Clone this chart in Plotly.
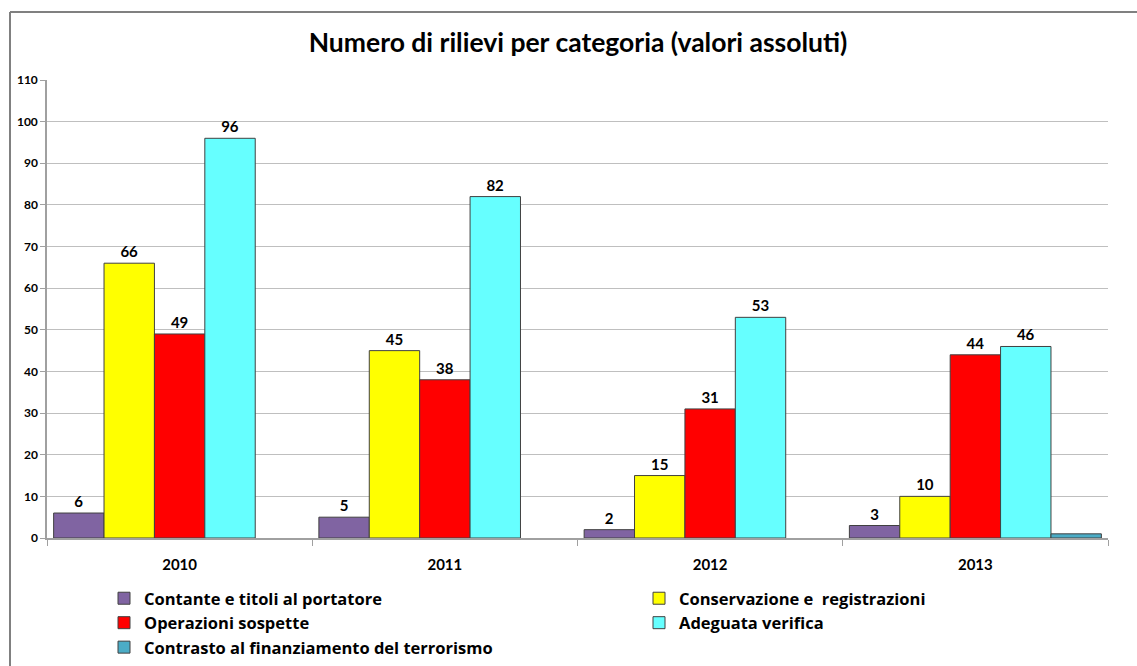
import plotly.graph_objects as go

# Anni e serie
anni = ["2010", "2011", "2012", "2013"]
contante = [6, 5, 2, 3]
conservazione = [66, 45, 15, 10]
operazioni = [49, 38, 31, 44]
adeguata = [96, 82, 53, 46]
contrasto = [None, None, None, 1]

# nome, valori, colore, etichetta dati, legenda (colonna)
serie = [
    ("Contante e titoli al portatore", contante, "#8064A2", True, "legend"),
    ("Conservazione e  registrazioni", conservazione, "#FFFF00", True, "legend2"),
    ("Operazioni sospette", operazioni, "#FF0000", True, "legend"),
    ("Adeguata verifica", adeguata, "#66FFFF", True, "legend2"),
    ("Contrasto al finanziamento del terrorismo", contrasto, "#4BACC6", False, "legend"),
]

FONT = "Lato"

fig = go.Figure()
for nome, valori, colore, etichetta, leg in serie:
    fig.add_trace(go.Bar(
        name=nome,
        x=anni,
        y=valori,
        legend=leg,
        marker=dict(color=colore, line=dict(color="#404040", width=1)),
        text=[str(v) if (etichetta and v is not None) else "" for v in valori],
        textposition="outside",
        textfont=dict(family=FONT, size=15, color="#000000", weight="bold"),
        cliponaxis=False,
    ))

L, R, T, B = 47, 29, 80, 128
W, H = 1137, 666
pw = W - L - R
ph = H - T - B

legend_font = dict(family="Open Sans", size=16.5, color="#000000", weight="bold")
legend_y = -(581 - (H - B)) / ph

fig.update_layout(
    width=W, height=H,
    margin=dict(l=L, r=R, t=T, b=B, autoexpand=False),
    paper_bgcolor="white",
    plot_bgcolor="white",
    barmode="group",
    bargap=0.05,
    bargroupgap=0,
    title=dict(
        text="Numero di rilievi per categoria (valori assoluti)",
        x=578 / W, xanchor="center",
        y=1 - 43 / H, yanchor="middle",
        font=dict(family=FONT, size=26.5, color="#000000", weight="bold"),
    ),
    font=dict(family=FONT, color="#000000"),
    legend=dict(
        orientation="v",
        x=(104 - L) / pw, xanchor="left",
        y=legend_y, yanchor="top",
        font=legend_font,
        itemwidth=30,
        tracegroupgap=0,
        bgcolor="rgba(0,0,0,0)",
    ),
    legend2=dict(
        orientation="v",
        x=(639 - L) / pw, xanchor="left",
        y=legend_y, yanchor="top",
        font=legend_font,
        itemwidth=30,
        tracegroupgap=0,
        bgcolor="rgba(0,0,0,0)",
    ),
    showlegend=True,
)

fig.update_xaxes(
    showgrid=False,
    showline=True, linecolor="#A0A0A0", linewidth=1.5,
    ticks="outside", tickson="boundaries", ticklen=6, tickcolor="#A0A0A0",
    tickfont=dict(family=FONT, size=15, color="#000000", weight="bold"),
    ticklabelstandoff=12,
)
fig.update_yaxes(
    range=[0, 110],
    dtick=10,
    showgrid=True, gridcolor="#BFBFBF", gridwidth=1,
    showline=True, linecolor="#A0A0A0", linewidth=1.5,
    ticks="outside", ticklen=5, tickcolor="#A0A0A0",
    tickfont=dict(family=FONT, size=12, color="#000000", weight="bold"),
    zeroline=False,
)

# Cornice esterna del grafico (lati sinistro e superiore)
x_left = (10 - L) / pw
y_top = (H - B - 12) / ph
fig.add_shape(type="line", xref="paper", yref="paper",
              x0=x_left, x1=x_left, y0=y_top, y1=-B / ph - 0.05,
              line=dict(color="#808080", width=2))
fig.add_shape(type="line", xref="paper", yref="paper",
              x0=x_left, x1=1 + R / pw + 0.05, y0=y_top, y1=y_top,
              line=dict(color="#808080", width=2))

fig.write_html("out.html")
